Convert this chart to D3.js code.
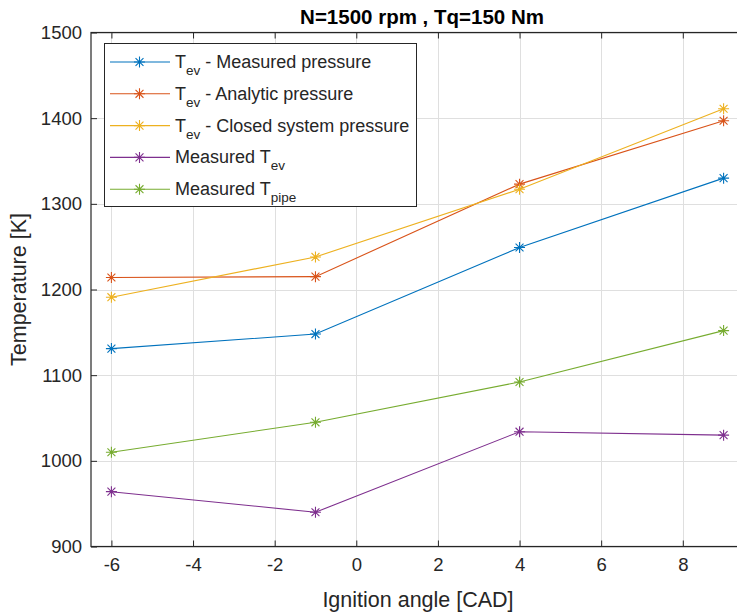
<!DOCTYPE html>
<html>
<head>
<meta charset="utf-8">
<script src="https://cdn.jsdelivr.net/npm/d3@7"></script>
<style>
  body { margin: 0; background: #fff; }
  svg { display: block; font-family: "Liberation Sans", Arial, Helvetica, sans-serif; }
</style>
</head>
<body>
<svg width="737" height="614"></svg>
<script>
const svg = d3.select("svg");

// ignition angle [CAD]
const angles = [-6, -1, 4, 9];

// temperature series [K]
const tevMeasured = [1131, 1148, 1249, 1330];
const tevAnalytic = [1214, 1215, 1323, 1397];
const tevClosed = [1191, 1238, 1317, 1411];
const measuredTev = [964, 940, 1034, 1030];
const measuredTpipe = [1010, 1045, 1092, 1152];

const xTicks = [-6, -4, -2, 0, 2, 4, 6, 8];
const yTicks = [900, 1000, 1100, 1200, 1300, 1400, 1500];

// legend text: [main, subscript, trailing]
const seriesLabels = [
    ["T", "ev", " - Measured pressure"],
    ["T", "ev", " - Analytic pressure"],
    ["T", "ev", " - Closed system pressure"],
    ["Measured T", "ev", ""],
    ["Measured T", "pipe", ""]
];
const seriesValues = [tevMeasured, tevAnalytic, tevClosed, measuredTev, measuredTpipe];
const colors = ["#0072BD", "#D95319", "#EDB120", "#7E2F8E", "#77AC30"];

const plot = {left: 91, right: 744, top: 32.5, bottom: 546.5};

const xScale = d3.scaleLinear().domain([-6.5, 9.5]).range([plot.left, plot.right]);
const yScale = d3.scaleLinear().domain([900, 1500]).range([plot.bottom, plot.top]);

// grid
const grid = svg.append("g").attr("stroke", "#dfdfdf").attr("stroke-width", 1);
grid.selectAll(".gx").data(xTicks).enter().append("line")
    .attr("x1", d => Math.round(xScale(d)) + 0.5).attr("x2", d => Math.round(xScale(d)) + 0.5)
    .attr("y1", plot.top).attr("y2", plot.bottom);
grid.selectAll(".gy").data(yTicks).enter().append("line")
    .attr("y1", d => Math.round(yScale(d)) + 0.5).attr("y2", d => Math.round(yScale(d)) + 0.5)
    .attr("x1", plot.left).attr("x2", plot.right);

// axes, ticks pointing inward
const xAxis = d3.axisBottom(xScale).tickValues(xTicks).tickSizeInner(-6).tickSizeOuter(0).tickPadding(11)
    .tickFormat(d => d < 0 ? "-" + Math.abs(d) : d);
const yAxis = d3.axisLeft(yScale).tickValues(yTicks).tickSizeInner(-6).tickSizeOuter(0).tickPadding(9)
    .tickFormat(d3.format("d"));
const xTop = d3.axisTop(xScale).tickValues(xTicks).tickSizeInner(-6).tickSizeOuter(0).tickFormat("");

const gx = svg.append("g").attr("transform", `translate(0,${plot.bottom})`).call(xAxis);
const gy = svg.append("g").attr("transform", `translate(${plot.left},0)`).call(yAxis);
const gt = svg.append("g").attr("transform", `translate(0,${plot.top})`).call(xTop);

[gx, gy, gt].forEach(g => {
    g.select(".domain").remove();
    g.selectAll(".tick line").attr("stroke", "#262626");
    g.selectAll(".tick text").attr("fill", "#262626").style("font-size", "18.5px");
});

// axes box
svg.append("rect")
    .attr("x", plot.left).attr("y", plot.top)
    .attr("width", plot.right - plot.left).attr("height", plot.bottom - plot.top)
    .attr("fill", "none").attr("stroke", "#262626").attr("stroke-width", 1.2);

// asterisk marker
function asterisk(g, cx, cy, r, color) {
    const d = r * 0.72;
    const path = `M${cx},${cy - r}L${cx},${cy + r}M${cx - r},${cy}L${cx + r},${cy}` +
        `M${cx - d},${cy - d}L${cx + d},${cy + d}M${cx - d},${cy + d}L${cx + d},${cy - d}`;
    g.append("path").attr("d", path).attr("stroke", color).attr("stroke-width", 1.1).attr("fill", "none");
}

const line = d3.line().x((d, i) => xScale(angles[i])).y(d => yScale(d));

seriesValues.forEach((vals, k) => {
    const g = svg.append("g");
    g.append("path").datum(vals).attr("d", line)
        .attr("fill", "none").attr("stroke", colors[k]).attr("stroke-width", 1.1);
    vals.forEach((v, i) => asterisk(g, xScale(angles[i]), yScale(v), 5.5, colors[k]));
});

// legend
const legend = svg.append("g");
legend.append("rect")
    .attr("x", 104.5).attr("y", 43.5).attr("width", 312).attr("height", 163)
    .attr("fill", "#fff").attr("stroke", "#262626").attr("stroke-width", 1);

seriesLabels.forEach((lab, k) => {
    const y = 62 + k * 31.8;
    legend.append("line").attr("x1", 110).attr("x2", 170).attr("y1", y).attr("y2", y)
        .attr("stroke", colors[k]).attr("stroke-width", 1.1);
    asterisk(legend, 139.5, y, 5.5, colors[k]);
    const t = legend.append("text").attr("x", 175).attr("y", y + 6)
        .attr("fill", "#262626").style("font-size", "18px");
    t.append("tspan").text(lab[0]);
    t.append("tspan").attr("dy", 7).style("font-size", "13.5px").text(lab[1]);
    if (lab[2]) t.append("tspan").attr("dy", -7).text(lab[2]);
});

// title and axis labels
svg.append("text")
    .attr("x", 422).attr("y", 24)
    .attr("text-anchor", "middle").attr("font-weight", "bold")
    .attr("fill", "#000").style("font-size", "20.5px")
    .text("N=1500 rpm , Tq=150 Nm");

svg.append("text")
    .attr("x", 418).attr("y", 607)
    .attr("text-anchor", "middle").attr("fill", "#262626").style("font-size", "21.5px")
    .text("Ignition angle [CAD]");

svg.append("text")
    .attr("transform", `translate(26,${(plot.top + plot.bottom) / 2}) rotate(-90)`)
    .attr("text-anchor", "middle").attr("fill", "#262626").style("font-size", "21.5px")
    .text("Temperature [K]");
</script>
</body>
</html>
